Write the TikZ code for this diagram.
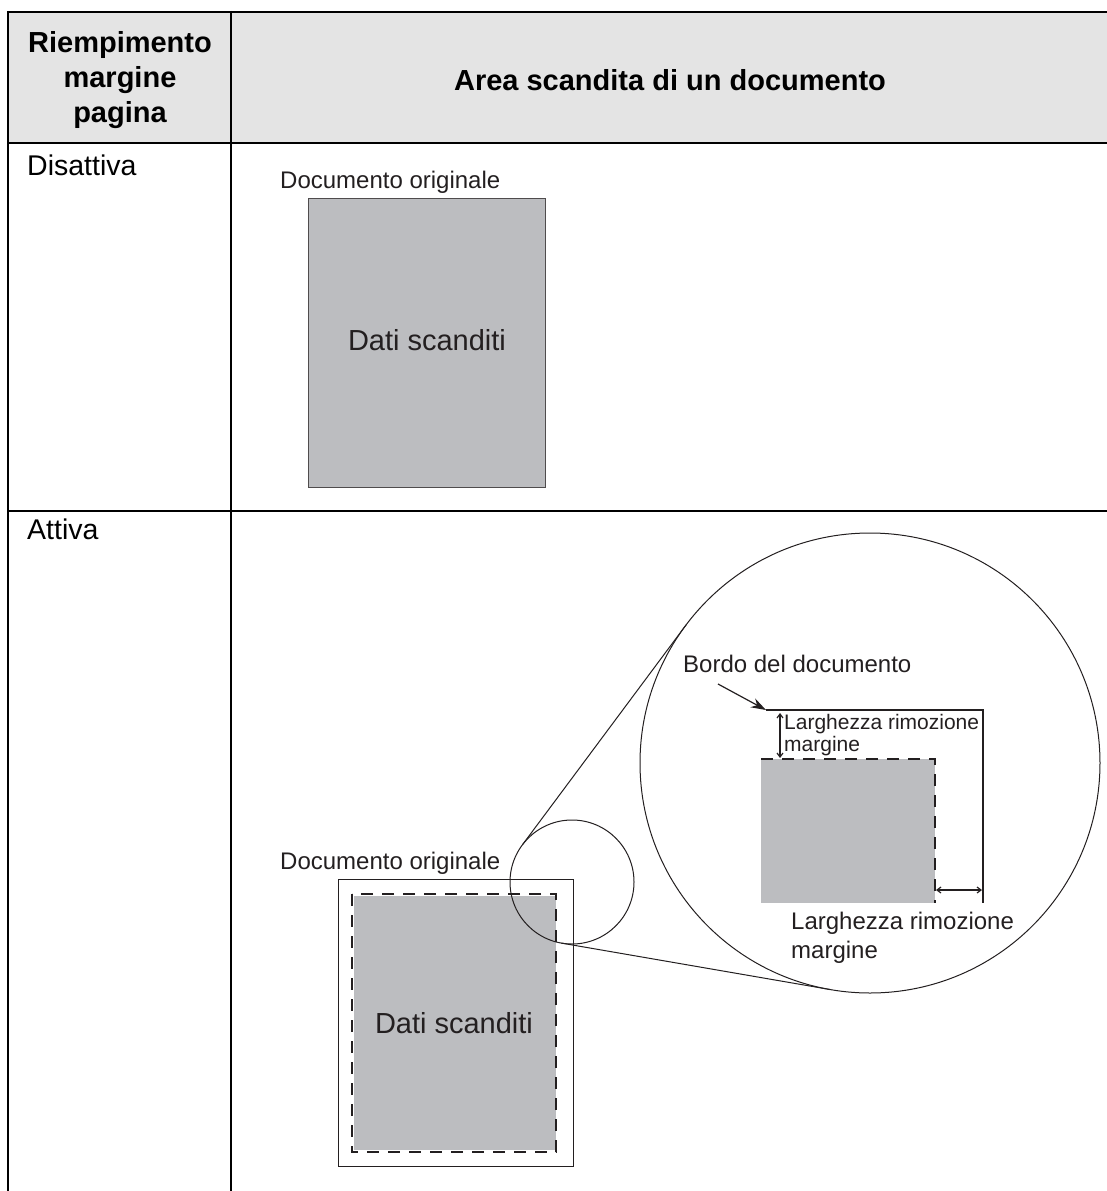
\documentclass[tikz,border=0pt]{standalone}
\usepackage{fontspec}
\setmainfont{Liberation Sans}
\usetikzlibrary{arrows.meta,calc}
\definecolor{hdrgray}{HTML}{E4E4E4}
\definecolor{docgray}{HTML}{BCBDC0}
\definecolor{ink}{HTML}{231F20}
\tikzset{
  tbl/.style={line width=2.4pt, black},
  hdr/.style={font=\fontsize{29}{35}\selectfont\bfseries, inner sep=0, align=center},
  lbl/.style={font=\fontsize{28.5}{34}\selectfont, inner sep=0},
  big/.style={font=\fontsize{29}{34}\selectfont, inner sep=0, text=ink},
  smalltxt/.style={font=\fontsize{24}{29}\selectfont, inner sep=0, text=ink, align=left},
  tinytxt/.style={font=\fontsize{21}{22}\selectfont, inner sep=0, text=ink, align=left},
  thinline/.style={line width=1pt, ink},
  dashline/.style={line width=1.3pt, ink, dash pattern=on 12pt off 9pt},
  edgeline/.style={line width=2.6pt, ink},
  dimarrow/.style={line width=1.2pt, ink, {Straight Barb[length=4pt,width=6pt]}-{Straight Barb[length=4pt,width=6pt]}},
  ring/.style={circle, draw=ink, line width=1pt, inner sep=0, outer sep=0}
}
\begin{document}
\begin{tikzpicture}[x=1pt,y=-1pt]
\useasboundingbox (0,0) rectangle (1107,1191);
% header background
\fill[hdrgray] (8,12) rectangle (1107,143);
% table lines
\draw[tbl] (8,12) -- (1107,12);
\draw[tbl] (8,143) -- (1107,143);
\draw[tbl] (8,511) -- (1107,511);
\draw[tbl] (8,10.8) -- (8,1191);
\draw[tbl] (231,10.8) -- (231,1191);
% header texts
\node[hdr] (h1) at (120,80) {Riempimento\\margine\\pagina};
\node[hdr] (h2) at (670,80) {Area scandita di un documento};
% row labels
\node[lbl, anchor=base west] (r1) at (27,175) {Disattiva};
\node[lbl, anchor=base west] (r2) at (27,539) {Attiva};

% ---- row 1
\node[smalltxt, anchor=west] (o1) at (280,182) {Documento originale};
\filldraw[fill=docgray, draw=ink!80, line width=1pt] (308,198) rectangle (545,487);
\node[big] (d1) at (427,340) {Dati scanditi};

% ---- row 2
\node[smalltxt, anchor=west] (o2) at (280,863) {Documento originale};
\draw[thinline] (338,879) rectangle (573,1166);
\fill[docgray] (354,896) rectangle (556,1150);
\draw[dashline] (352,894) rectangle (556,1152);
\node[big] (d2) at (454,1023) {Dati scanditi};

% magnifier
\node[ring, minimum size=124pt] (zsmall) at (572,882) {};
\node[ring, minimum size=460pt] (zbig) at (870,763) {};
\draw[thinline] (zsmall.143.33) -- (zbig.143.33);
\draw[thinline] (zsmall.260.19) -- (zbig.260.19);

% inside big circle
\fill[docgray] (761,759) rectangle (935,903);
\draw[dashline] (761,759) -- (935,759) -- (935,903);
\coordinate (ecorner) at (766,710);
\draw[edgeline] (ecorner) -- (983,710) -- (983,903);
\node[smalltxt, anchor=west] (bordo) at (683,664) {Bordo del documento};
\coordinate (bstart) at (718,684);
\draw[line width=1.2pt, ink, -{Stealth[length=15pt,width=10pt]}] (bstart) -- (ecorner);
\coordinate (va) at (780,713);
\coordinate (vb) at (780,758);
\draw[dimarrow] (va) -- (vb);
\node[tinytxt, anchor=west] (lt) at (784,735) {Larghezza rimozione\\margine};
\coordinate (ha) at (936,890);
\coordinate (hb) at (982,890);
\draw[dimarrow] (ha) -- (hb);
\node[smalltxt, anchor=west] (lb) at (791,938) {Larghezza rimozione\\margine};
\end{tikzpicture}
\end{document}
